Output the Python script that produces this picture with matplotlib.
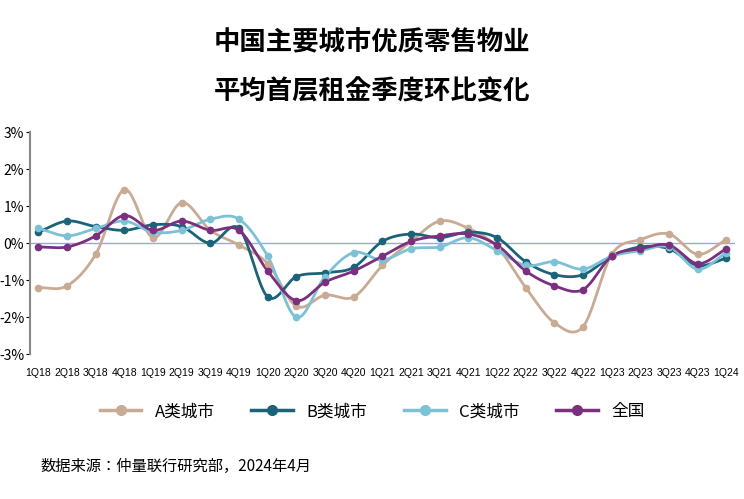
import numpy as np
import matplotlib
matplotlib.use("Agg")
import matplotlib.pyplot as plt
from matplotlib.lines import Line2D
from matplotlib import font_manager as fm

cjk = [f.name for f in fm.fontManager.ttflist if "CJK" in f.name]
pref = [n for n in ["Noto Sans CJK SC", "Noto Sans CJK JP", "Noto Sans CJK TC", "Noto Sans CJK KR"] if n in cjk] or cjk
plt.rcParams['font.family'] = 'sans-serif'
plt.rcParams['font.sans-serif'] = pref + ['DejaVu Sans']

quarters = ["1Q18","2Q18","3Q18","4Q18","1Q19","2Q19","3Q19","4Q19","1Q20","2Q20","3Q20","4Q20",
            "1Q21","2Q21","3Q21","4Q21","1Q22","2Q22","3Q22","4Q22","1Q23","2Q23","3Q23","4Q23","1Q24"]
city_a = [-1.2,-1.15,-0.3,1.45,0.15,1.1,0.35,-0.05,-0.55,-1.7,-1.4,-1.45,-0.6,0.05,0.6,0.4,-0.1,-1.2,-2.15,-2.25,-0.3,0.1,0.25,-0.3,0.1]
city_b = [0.3,0.6,0.45,0.35,0.5,0.45,0.0,0.4,-1.45,-0.9,-0.8,-0.65,0.05,0.25,0.15,0.3,0.15,-0.5,-0.85,-0.85,-0.35,-0.1,-0.15,-0.6,-0.4]
city_c = [0.4,0.2,0.4,0.6,0.3,0.35,0.65,0.65,-0.35,-2.0,-0.9,-0.25,-0.45,-0.15,-0.1,0.15,-0.2,-0.6,-0.5,-0.7,-0.35,-0.2,-0.1,-0.7,-0.25]
national = [-0.1,-0.1,0.2,0.75,0.35,0.6,0.35,0.35,-0.75,-1.55,-1.05,-0.75,-0.35,0.05,0.2,0.25,-0.05,-0.75,-1.15,-1.25,-0.35,-0.15,-0.05,-0.55,-0.15]
labels = ["A类城市","B类城市","C类城市","全国"]
colors = ["#c9ab94","#1b6378","#7cc2d6","#7b2f7f"]

def smooth(y, n=20):
    y = np.asarray(y, float)
    p = np.concatenate([[2*y[0]-y[1]], y, [2*y[-1]-y[-2]]])
    xs, ys = [], []
    t = np.linspace(0, 1, n, endpoint=False)
    for i in range(len(y)-1):
        p0, p1, p2, p3 = p[i], p[i+1], p[i+2], p[i+3]
        s = 0.5*((2*p1) + (-p0+p2)*t + (2*p0-5*p1+4*p2-p3)*t**2 + (-p0+3*p1-3*p2+p3)*t**3)
        xs.append(i+t); ys.append(s)
    xs.append([len(y)-1]); ys.append([y[-1]])
    return np.concatenate(xs), np.concatenate(ys)

fig = plt.figure(figsize=(7.44, 4.99), dpi=100)
ax = fig.add_axes([0.04, 0.29, 0.948, 0.445])
x = np.arange(len(quarters))
ax.axhline(0, color="#9aa6e0", lw=1, zorder=1)
for data, c in zip([city_a, city_b, city_c, national], colors):
    sx, sy = smooth(data)
    ax.plot(sx, sy, color=c, lw=2, zorder=2)
    ax.plot(x, data, 'o', color=c, ms=4.5, zorder=3)
ax.set_ylim(-3, 3)
ax.set_xlim(-0.3, len(quarters)-0.7)
ax.set_yticks([-3,-2,-1,0,1,2,3])
ax.set_yticklabels([f"{v}%" for v in [-3,-2,-1,0,1,2,3]], fontsize=10)
ax.set_xticks(x)
ax.set_xticklabels(quarters, fontsize=7.5, fontfamily="Liberation Sans")
for s in ["top","right","bottom"]:
    ax.spines[s].set_visible(False)
ax.spines["left"].set_color("#888888")
ax.spines["left"].set_linewidth(1.5)
ax.tick_params(axis="x", length=0, pad=10)
ax.tick_params(axis="y", length=3, pad=1)

fig.text(0.5, 0.915, "中国主要城市优质零售物业", ha="center", va="center", fontsize=19, fontweight="bold")
fig.text(0.5, 0.815, "平均首层租金季度环比变化", ha="center", va="center", fontsize=19, fontweight="bold")

handles = [Line2D([0],[0], color=c, lw=2.5, marker='o', ms=7) for c in colors]
fig.legend(handles, labels, loc="center", bbox_to_anchor=(0.5, 0.175), ncol=4, frameon=False,
           fontsize=12, handlelength=2.5, columnspacing=2.2)
fig.text(0.055, 0.065, "数据来源：仲量联行研究部，2024年4月", fontsize=11, style="italic", va="center")
fig.savefig("out.png", dpi=100)
